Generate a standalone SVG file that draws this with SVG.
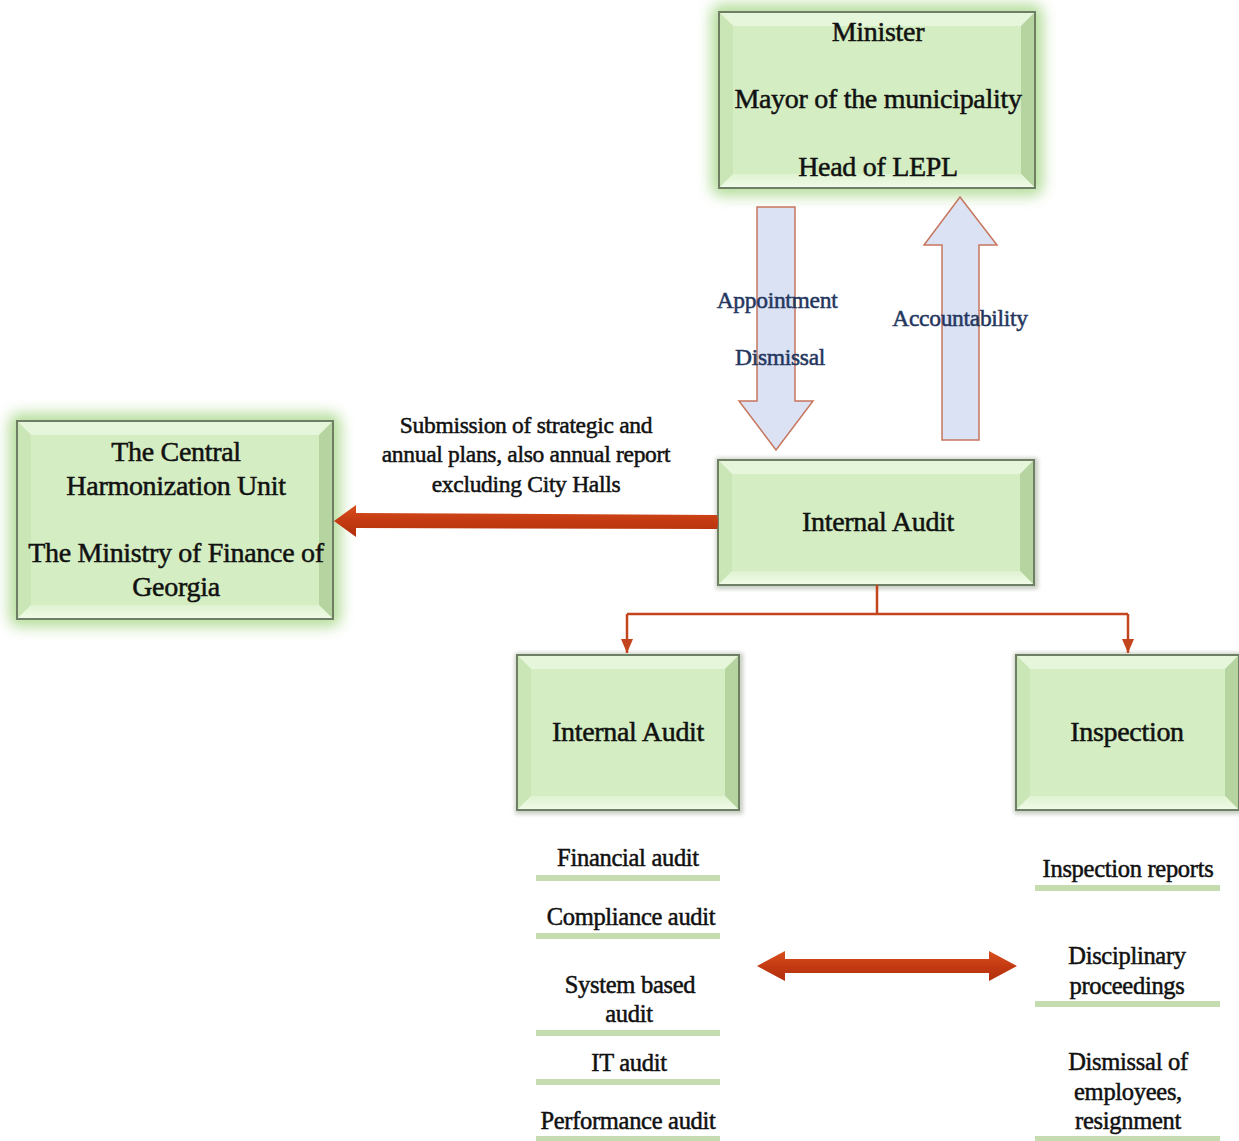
<svg xmlns="http://www.w3.org/2000/svg" width="1239" height="1141" viewBox="0 0 1239 1141">
  <defs>
    <filter id="glow" x="-20%" y="-20%" width="140%" height="140%">
      <feGaussianBlur stdDeviation="7"/>
    </filter>
    <filter id="soft" x="-10%" y="-10%" width="120%" height="120%">
      <feGaussianBlur stdDeviation="2"/>
    </filter>
    <linearGradient id="redBar" x1="0" y1="0" x2="0" y2="1">
      <stop offset="0" stop-color="#d8501e"/>
      <stop offset="0.5" stop-color="#c43a12"/>
      <stop offset="1" stop-color="#b0300c"/>
    </linearGradient>
    <linearGradient id="bottomBevel" x1="0" y1="0" x2="0" y2="1">
      <stop offset="0" stop-color="#dff3d0"/>
      <stop offset="1" stop-color="#f1fbe9"/>
    </linearGradient>
    <marker id="tip" viewBox="0 0 14 12" refX="14" refY="6" markerWidth="14" markerHeight="12" markerUnits="userSpaceOnUse" orient="auto">
      <path d="M0,0 L14,6 L0,12 Z" fill="#c2451d"/>
    </marker>
    <style>
      .glow { fill: #a9d88a; opacity: 0.85; }
      .shade { fill: #8a9a80; opacity: 0.5; }
      .frame { fill: none; stroke: #6f7f66; stroke-width: 2; }
      .face { fill: #d4edc2; }
      .btop { fill: #e6f6da; }
      .bleft { fill: #cbe6b6; }
      .bright { fill: #b6d49f; }
      .bbottom { fill: url(#bottomBevel); }
      .t { font-family: "Liberation Serif", "Times New Roman", serif; fill: #111; stroke: #111; stroke-width: 0.5px; text-anchor: middle; }
      .big { font-size: 28px; letter-spacing: -0.3px; }
      .mid { font-size: 23.5px; letter-spacing: -0.3px; }
      .list { font-size: 24.5px; letter-spacing: -0.3px; }
      .blue { font-family: "Liberation Serif", "Times New Roman", serif; font-size: 23.5px; fill: #24365e; stroke: #24365e; stroke-width: 0.5px; text-anchor: middle; letter-spacing: -0.3px; }
      .bigArrow { fill: #dbe2f4; stroke: #c7765e; stroke-width: 1.5; }
      .conn { fill: none; stroke: #c2451d; stroke-width: 2.5; }
      .rule { fill: #c5dcb1; }
    </style>
  </defs>

  <rect width="1239" height="1141" fill="#ffffff"/>

  <!-- Minister / Mayor / Head of LEPL -->
  <g id="leadership">
    <rect class="glow" x="711" y="4" width="332" height="192" rx="10" filter="url(#glow)"/>
    <rect class="face" x="719" y="12" width="316" height="176"/>
    <polygon class="btop" points="719,12 1035,12 1021,26 733,26"/>
    <polygon class="bleft" points="719,12 733,26 733,174 719,188"/>
    <polygon class="bright" points="1035,12 1021,26 1021,174 1035,188"/>
    <polygon class="bbottom" points="719,188 1035,188 1021,174 733,174"/>
    <rect class="frame" x="719" y="12" width="316" height="176"/>
    <text class="t big" x="878" y="41">Minister</text>
    <text class="t big" x="878" y="108">Mayor of the municipality</text>
    <text class="t big" x="878" y="176">Head of LEPL</text>
  </g>

  <!-- Central Harmonization Unit -->
  <g id="chu">
    <rect class="glow" x="9" y="413" width="332" height="214" rx="10" filter="url(#glow)"/>
    <rect class="face" x="17" y="421" width="316" height="198"/>
    <polygon class="btop" points="17,421 333,421 319,435 31,435"/>
    <polygon class="bleft" points="17,421 31,435 31,605 17,619"/>
    <polygon class="bright" points="333,421 319,435 319,605 333,619"/>
    <polygon class="bbottom" points="17,619 333,619 319,605 31,605"/>
    <rect class="frame" x="17" y="421" width="316" height="198"/>
    <text class="t big" x="176" y="461">The Central</text>
    <text class="t big" x="176" y="495">Harmonization Unit</text>
    <text class="t big" x="176" y="562">The Ministry of Finance of</text>
    <text class="t big" x="176" y="596">Georgia</text>
  </g>

  <!-- Internal Audit (unit) -->
  <g id="internal-audit">
    <rect class="shade" x="716" y="458" width="322" height="131" filter="url(#soft)"/>
    <rect class="face" x="718" y="460" width="316" height="125"/>
    <polygon class="btop" points="718,460 1034,460 1020,474 732,474"/>
    <polygon class="bleft" points="718,460 732,474 732,571 718,585"/>
    <polygon class="bright" points="1034,460 1020,474 1020,571 1034,585"/>
    <polygon class="bbottom" points="718,585 1034,585 1020,571 732,571"/>
    <rect class="frame" x="718" y="460" width="316" height="125"/>
    <text class="t big" x="878" y="531">Internal Audit</text>
  </g>

  <!-- Internal Audit (function) -->
  <g id="audit-branch">
    <rect class="shade" x="515" y="653" width="228" height="161" filter="url(#soft)"/>
    <rect class="face" x="517" y="655" width="222" height="155"/>
    <polygon class="btop" points="517,655 739,655 725,669 531,669"/>
    <polygon class="bleft" points="517,655 531,669 531,796 517,810"/>
    <polygon class="bright" points="739,655 725,669 725,796 739,810"/>
    <polygon class="bbottom" points="517,810 739,810 725,796 531,796"/>
    <rect class="frame" x="517" y="655" width="222" height="155"/>
    <text class="t big" x="628" y="741">Internal Audit</text>
  </g>

  <!-- Inspection -->
  <g id="inspection">
    <rect class="shade" x="1014" y="653" width="228" height="161" filter="url(#soft)"/>
    <rect class="face" x="1016" y="655" width="223" height="155"/>
    <polygon class="btop" points="1016,655 1239,655 1225,669 1030,669"/>
    <polygon class="bleft" points="1016,655 1030,669 1030,796 1016,810"/>
    <polygon class="bright" points="1239,655 1225,669 1225,796 1239,810"/>
    <polygon class="bbottom" points="1016,810 1239,810 1225,796 1030,796"/>
    <rect class="frame" x="1016" y="655" width="223" height="155"/>
    <text class="t big" x="1127" y="741">Inspection</text>
  </g>

  <!-- Audit types -->
  <g id="audit-types">
    <text class="t list" x="628" y="866">Financial audit</text>
    <rect class="rule" x="536" y="875" width="184" height="6"/>
    <text class="t list" x="631" y="925">Compliance audit</text>
    <rect class="rule" x="536" y="933" width="184" height="6"/>
    <text class="t list" x="630" y="993">System based</text>
    <text class="t list" x="629" y="1022">audit</text>
    <rect class="rule" x="536" y="1030" width="184" height="6"/>
    <text class="t list" x="629" y="1071">IT audit</text>
    <rect class="rule" x="536" y="1079" width="184" height="6"/>
    <text class="t list" x="628" y="1129">Performance audit</text>
    <rect class="rule" x="536" y="1136" width="184" height="6"/>
  </g>

  <!-- Inspection outcomes -->
  <g id="inspection-outcomes">
    <text class="t list" x="1128" y="877">Inspection reports</text>
    <rect class="rule" x="1035" y="885" width="185" height="6"/>
    <text class="t list" x="1127" y="964">Disciplinary</text>
    <text class="t list" x="1127" y="994">proceedings</text>
    <rect class="rule" x="1035" y="1001" width="185" height="6"/>
    <text class="t list" x="1128" y="1070">Dismissal of</text>
    <text class="t list" x="1128" y="1100">employees,</text>
    <text class="t list" x="1128" y="1129">resignment</text>
    <rect class="rule" x="1035" y="1136" width="185" height="6"/>
  </g>

  <!-- Connectors -->
  <g id="connectors">
    <!-- Appointment / Dismissal (down) -->
    <path class="bigArrow" d="M757,207 L795,207 L795,401 L813,401 L776,450 L739,401 L757,401 Z"/>
    <!-- Accountability (up) -->
    <path class="bigArrow" d="M942,440 L979,440 L979,245 L997,245 L960,197 L924,245 L942,245 Z"/>
    <text class="blue" x="777" y="308">Appointment</text>
    <text class="blue" x="780" y="365">Dismissal</text>
    <text class="blue" x="960" y="326">Accountability</text>

    <!-- Submission to the Central Harmonization Unit -->
    <path d="M717,515 Q719,522 717,529 L356,528 L356,537 L334,521 L356,505 L356,513 Z" fill="url(#redBar)"/>
    <text class="t mid" x="526" y="433">Submission of strategic and</text>
    <text class="t mid" x="526" y="462">annual plans, also annual report</text>
    <text class="t mid" x="526" y="492">excluding City Halls</text>

    <!-- Split to Internal Audit and Inspection -->
    <path class="conn" d="M877,585 L877,614"/>
    <path class="conn" d="M627,614 L1128,614"/>
    <path class="conn" d="M627,614 L627,653" marker-end="url(#tip)"/>
    <path class="conn" d="M1128,614 L1128,653" marker-end="url(#tip)"/>

    <!-- Two-way link between audit and inspection -->
    <path d="M757,966 L785,951 L785,959 L989,959 L989,951 L1017,966 L989,981 L989,973 L785,973 L785,981 Z" fill="url(#redBar)"/>
  </g>
</svg>
